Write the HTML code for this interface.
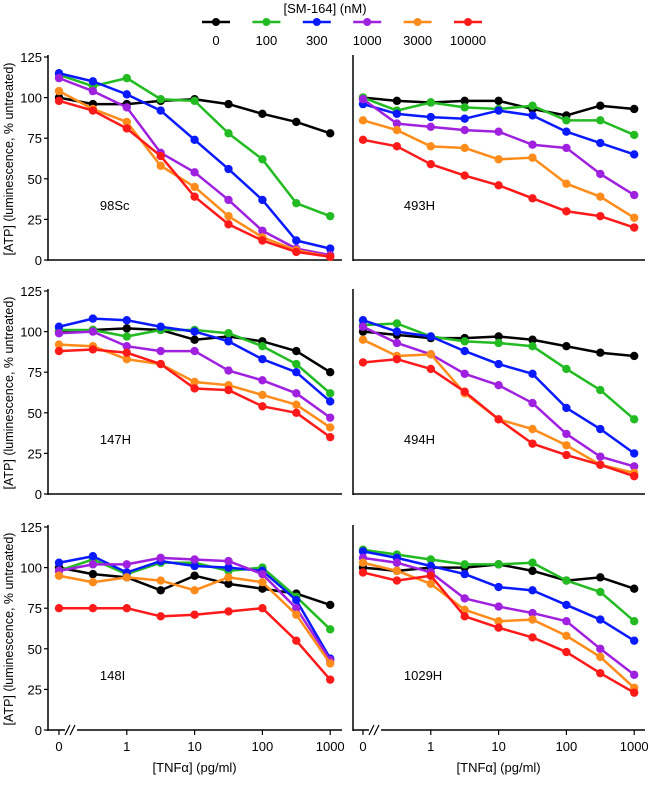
<!DOCTYPE html>
<html><head><meta charset="utf-8"><style>
body{margin:0;background:#fff;}
svg{display:block;font-family:"Liberation Sans",Arial,sans-serif;}
</style></head><body>
<svg id="chart" width="650" height="796" viewBox="0 0 650 796" xmlns="http://www.w3.org/2000/svg"></svg>
<script>
const xLabels = ["0","1","10","100","1000"];
const xLabelIdx = [0,2,4,6,8];
const yTicks = [0,25,50,75,100,125];
const seriesNames = ["0","100","300","1000","3000","10000"];
const seriesColors = ["#000000","#22bb22","#0a1aff","#a020e0","#ff8c1a","#ff1a1a"];
const panelNames = ["98Sc","493H","147H","494H","148I","1029H"];
const p98Sc = [
 [100,96,96,98,99,96,90,85,78],
 [114,107,112,99,98,78,62,35,27],
 [115,110,102,92,74,56,37,12,7],
 [112,104,94,66,54,37,18,7,3],
 [104,93,85,58,45,27,14,6,2],
 [98,92,81,64,39,22,12,5,2]];
const p493H = [
 [100,98,97,98,98,93,89,95,93],
 [100,92,97,94,93,95,86,86,77],
 [96,90,88,87,92,89,79,72,65],
 [99,84,82,80,79,71,69,53,40],
 [86,80,70,69,62,63,47,39,26],
 [74,70,59,52,46,38,30,27,20]];
const p147H = [
 [100,101,102,101,95,97,94,88,75],
 [101,101,97,101,101,99,91,80,62],
 [103,108,107,103,100,94,83,75,57],
 [99,100,91,88,88,76,70,62,47],
 [92,91,83,80,69,67,61,55,41],
 [88,89,87,80,65,64,54,50,35]];
const p494H = [
 [100,98,96,96,97,95,91,87,85],
 [104,105,97,94,93,91,77,64,46],
 [107,100,97,88,80,74,53,40,25],
 [103,93,86,74,67,56,37,23,17],
 [95,85,86,62,46,40,30,18,13],
 [81,83,77,63,46,31,24,18,11]];
const p148I = [
 [100,96,94,86,95,90,87,84,77],
 [98,105,96,103,103,98,100,82,62],
 [103,107,97,104,101,100,98,80,44],
 [98,102,102,106,105,104,96,75,43],
 [95,91,94,92,86,94,91,71,41],
 [75,75,75,70,71,73,75,55,31]];
const p1029H = [
 [100,98,100,100,102,98,92,94,87],
 [111,108,105,102,102,103,92,85,67],
 [110,106,101,96,88,86,77,68,55],
 [106,103,97,81,76,72,67,50,34],
 [103,98,90,74,67,68,58,45,26],
 [97,92,95,70,63,57,48,35,23]];
const panelData = [p98Sc,p493H,p147H,p494H,p148I,p1029H];

const NS="http://www.w3.org/2000/svg";
const svg=document.getElementById('chart');
function mk(tag,attrs,parent){const e=document.createElementNS(NS,tag);for(const k in attrs)e.setAttribute(k,attrs[k]);(parent||svg).appendChild(e);return e;}

const colX=[{axis:48,x0:59,end:342},{axis:353,x0:363,end:645}];
const rowY=[260,494,730];
const step=33.9;
const pxPer=203/125;

const lt=mk('text',{x:325,y:13,'text-anchor':'middle','font-size':13});
lt.textContent='[SM-164] (nM)';


seriesNames.forEach((n,i)=>{
  const cx=216+i*50.4;
  const g=mk('g',{});
  
  
  mk('line',{x1:cx-14,y1:22,x2:cx+14,y2:22,stroke:seriesColors[i],'stroke-width':2.5},g);
  mk('circle',{cx:cx,cy:22,r:4,fill:seriesColors[i]},g);
  const t=mk('text',{x:cx,y:45,'text-anchor':'middle','font-size':13},g);t.textContent=n;
});

panelData.forEach((data,p)=>{
  const c=colX[p%2], r=Math.floor(p/2), y0=rowY[r];
  const g=mk('g',{});
  
  
  const X=i=>c.x0+i*step, Y=v=>y0-v*pxPer;
  mk('line',{x1:c.axis,y1:y0-203-2,x2:c.axis,y2:y0+1,stroke:'#000','stroke-width':1.5},g);
  mk('line',{x1:c.axis,y1:y0,x2:c.end,y2:y0,stroke:'#000','stroke-width':1.5},g);
  if(p%2===0){
    yTicks.forEach(v=>{
      mk('line',{x1:c.axis-4,y1:Y(v),x2:c.axis,y2:Y(v),stroke:'#000','stroke-width':1.2},g);
      const t=mk('text',{x:c.axis-6,y:Y(v)+5,'text-anchor':'end','font-size':13},g);t.textContent=v;
    });
    const yl=mk('text',{x:0,y:0,'text-anchor':'middle','font-size':12.5,transform:`translate(13,${y0-101}) rotate(-90)`},g);
    yl.textContent='[ATP] (luminescence, % untreated)';
  }
  if(r===2){
    xLabelIdx.forEach((idx,k)=>{
      mk('line',{x1:X(idx),y1:y0,x2:X(idx),y2:y0+5,stroke:'#000','stroke-width':1.2},g);
      const t=mk('text',{x:X(idx),y:y0+21,'text-anchor':'middle','font-size':13},g);t.textContent=xLabels[k];
    });
    mk('rect',{x:X(0)+6,y:y0-3,width:12,height:6,fill:'#fff'},g);
    mk('line',{x1:X(0)+6,y1:y0+5,x2:X(0)+11,y2:y0-5,stroke:'#000','stroke-width':1.2},g);
    mk('line',{x1:X(0)+11,y1:y0+5,x2:X(0)+16,y2:y0-5,stroke:'#000','stroke-width':1.2},g);
    const xt=mk('text',{x:(c.x0+X(8))/2,y:y0+42,'text-anchor':'middle','font-size':13},g);
    xt.textContent='[TNFα] (pg/ml)';
  }
  const pl=mk('text',{x:X(1)+7,y:y0-50,'font-size':13},g);pl.textContent=panelNames[p];
  data.forEach((vals,s)=>{
    const sg=mk('g',{},g);
    
    
    mk('polyline',{points:vals.map((v,i)=>X(i)+','+Y(v)).join(' '),fill:'none',stroke:seriesColors[s],'stroke-width':2.5,'stroke-linejoin':'round'},sg);
    vals.forEach((v,i)=>mk('circle',{cx:X(i),cy:Y(v),r:4.2,fill:seriesColors[s]},sg));
  });
});
</script>
</body></html>
